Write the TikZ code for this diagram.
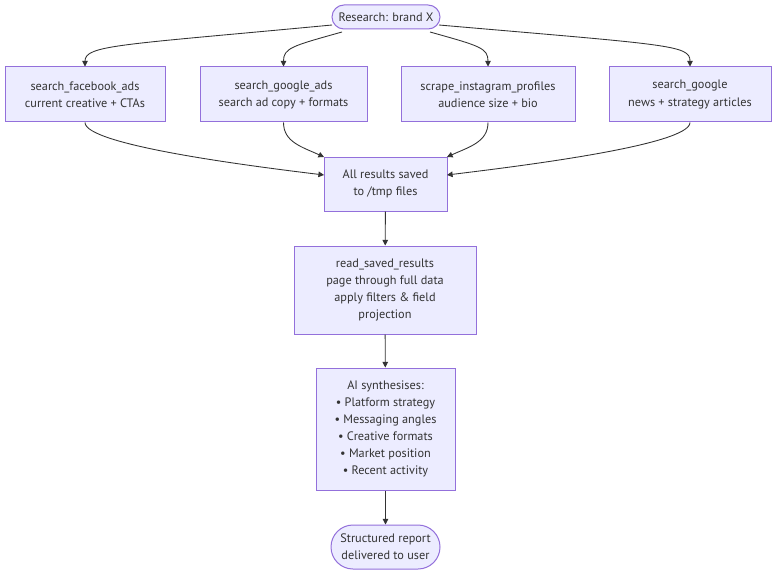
\documentclass[tikz,border=0pt]{standalone}
\usepackage{fontspec}
\setmainfont{PT Sans}
\usetikzlibrary{arrows.meta}
\definecolor{nfill}{HTML}{ECECFF}
\definecolor{nstroke}{HTML}{9370DB}
\definecolor{ink}{HTML}{333333}
\begin{document}
\begin{tikzpicture}[x=0.75pt,y=-0.75pt,
  box/.style={draw=nstroke,fill=nfill,line width=0.75pt,text=ink,align=center,
    inner sep=0pt,font=\fontsize{9.2pt}{12.8pt}\selectfont},
  pill/.style={box,rounded corners=#1},
  conn/.style={draw=ink,line width=0.65pt,-{Triangle[length=4.2pt,width=4.2pt]}}
]
\useasboundingbox (0,0) rectangle (784,581);
\fill[white] (0,0) rectangle (784,581);

\node[pill=9pt,minimum width=81pt,minimum height=18pt] (r) at (386,17) {Research: brand X};
\node[box,minimum width=120pt,minimum height=41.25pt] (b1) at (85,94.5) {search\_facebook\_ads\\current creative + CTAs};
\node[box,minimum width=125.25pt,minimum height=41.25pt] (b2) at (283.5,94.5) {search\_google\_ads\\search ad copy + formats};
\node[box,minimum width=130.5pt,minimum height=41.25pt] (b3) at (488,94.5) {scrape\_instagram\_profiles\\audience size + bio};
\node[box,minimum width=121.5pt,minimum height=41.25pt] (b4) at (690,94.5) {search\_google\\news + strategy articles};
\node[box,minimum width=92.25pt,minimum height=40.5pt] (all) at (385.5,184) {All results saved\\to /tmp files};
\node[box,minimum width=136.5pt,minimum height=66pt] (rd) at (385,290) {read\_saved\_results\\page through full data\\apply filters \& field\\projection};
\node[box,minimum width=104.25pt,minimum height=91.5pt] (ai) at (385.5,429) {AI synthesises:\\• Platform strategy\\• Messaging angles\\• Creative formats\\• Market position\\• Recent activity};
\node[pill=16.5pt,minimum width=81.75pt,minimum height=33pt] (rep) at (385.5,547) {Structured report\\delivered to user};

% fan-out
\coordinate (r1) at (332,25);
\coordinate (r2) at (342,32);
\coordinate (r3) at (430,32);
\coordinate (r4) at (439,25);
\draw[conn] (r1) .. controls (120,45) and (85,45) .. (b1.north);
\draw[conn] (r2) .. controls (292,46) and (283.5,48) .. (b2.north);
\draw[conn] (r3) .. controls (480,46) and (488,48) .. (b3.north);
\draw[conn] (r4) .. controls (670,45) and (690,45) .. (b4.north);

% fan-in
\coordinate (a1) at (324,175);
\coordinate (a2) at (324,157);
\coordinate (a3) at (447,157);
\coordinate (a4) at (447,175);
\draw[conn] (b1.south) .. controls (85,145) and (250,166) .. (a1);
\draw[conn] (b2.south) .. controls (283.5,142) and (302,147) .. (a2);
\draw[conn] (b3.south) .. controls (488,142) and (469,147) .. (a3);
\draw[conn] (b4.south) .. controls (690,145) and (521,166) .. (a4);

\draw[conn] (all) -- (rd);
\draw[conn] (rd) -- (ai);
\draw[conn] (ai) -- (rep);
\end{tikzpicture}
\end{document}
